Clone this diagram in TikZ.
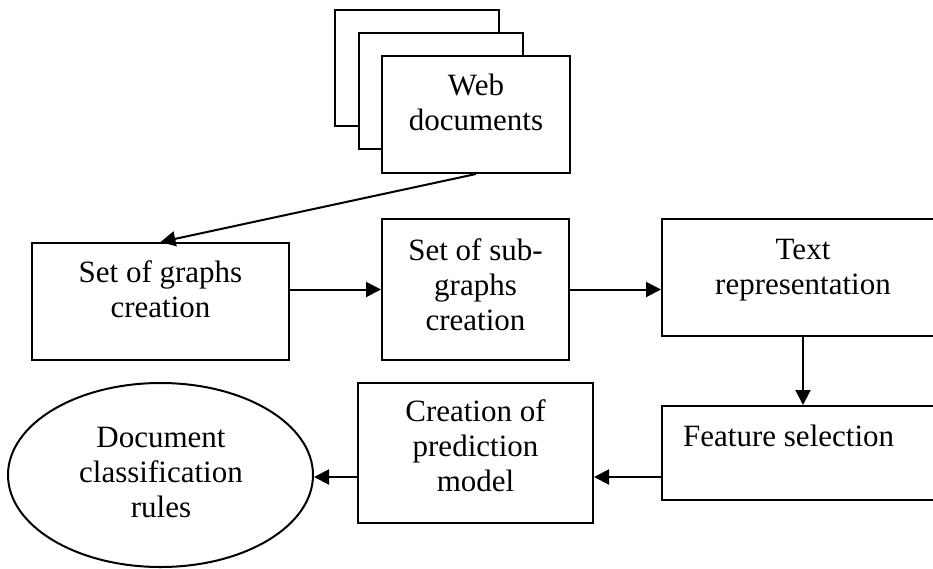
\documentclass[tikz,border=0pt]{standalone}
\usepackage{fontspec}
\setmainfont{Liberation Serif}
\usetikzlibrary{arrows.meta,calc,shapes.geometric}
\begin{document}
\begin{tikzpicture}[x=1pt,y=-1pt,
  box/.style={draw,line width=2pt,fill=white,rectangle,inner sep=0pt},
  lbl/.style={font=\fontsize{31}{35}\selectfont,align=center,anchor=base,inner sep=0pt},
  arr/.style={line width=2pt,-{Triangle[length=15pt,width=15pt]}}]
\useasboundingbox (0,0) rectangle (933,568);
\begin{scope}
\clip (0,0) rectangle (933,568);
% stacked web documents
\node[box,minimum width=164pt,minimum height=116pt] (back) at (417,68) {};
\node[box,minimum width=164pt,minimum height=116pt] (mid) at (441,91) {};
\node[box,minimum width=188pt,minimum height=117pt] (front) at (476,114.5) {};
\node[lbl] (tweb) at (476,130) {Web\\documents};
% boxes
\node[box,minimum width=257pt,minimum height=117pt] (graphs) at (160.5,301.5) {};
\node[lbl] (tgraphs) at (160.5,317) {Set of graphs\\creation};
\node[box,minimum width=187pt,minimum height=141pt] (sub) at (475.5,289.5) {};
\node[lbl] (tsub) at (475.5,330) {Set of sub-\\graphs\\creation};
\node[box,minimum width=282pt,minimum height=117pt] (tr) at (803,277.5) {};
\node[lbl] (ttr) at (803,294) {Text\\representation};
\node[box,minimum width=282pt,minimum height=94pt] (fs) at (803,453) {};
\node[lbl,anchor=base west] (tfs) at (683,446) {Feature selection};
\node[box,minimum width=235pt,minimum height=140pt] (cr) at (475.5,453) {};
\node[lbl] (tcr) at (475.5,491) {Creation of\\prediction\\model};
\node[draw,line width=2pt,ellipse,minimum width=305pt,minimum height=184pt,inner sep=0pt] (ell) at (160.5,475) {};
\node[lbl] (tell) at (161,517) {Document\\classification\\rules};
% connectors
\coordinate (c1) at (0,477);
\draw[arr] (front.south) -- (graphs.north);
\draw[arr] (graphs.east |- sub.center) -- (sub.west);
\draw[arr] (sub.east) -- (tr.west |- sub.center);
\draw[arr] (tr.south) -- (fs.north);
\draw[arr] (fs.west |- c1) -- (cr.east |- c1);
\draw[arr] (cr.west |- c1) -- (ell.east |- c1);
\end{scope}
\end{tikzpicture}
\end{document}
